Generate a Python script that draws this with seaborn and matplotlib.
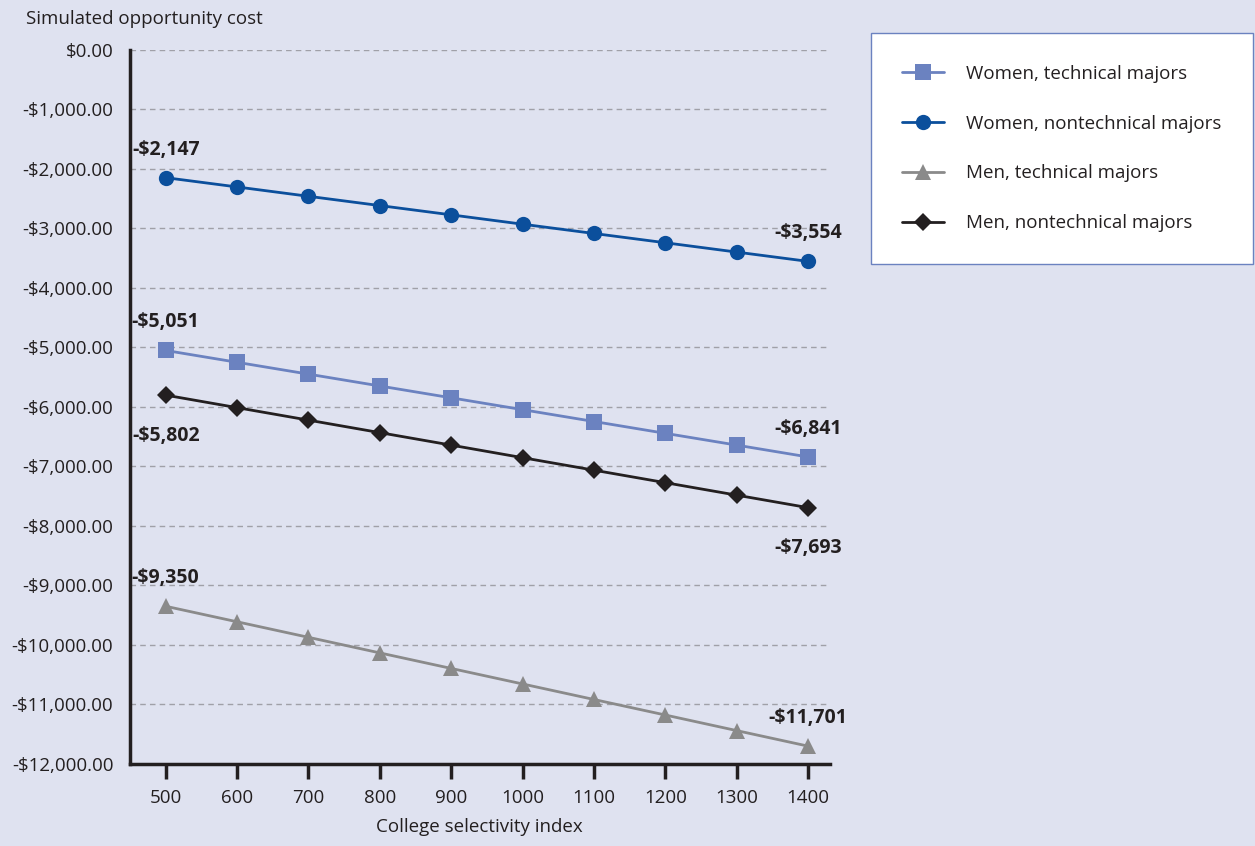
import pandas as pd
import seaborn as sns
import matplotlib.pyplot as plt
import matplotlib.transforms as mtransforms
from matplotlib.ticker import FuncFormatter

# Data
selectivity = [500, 600, 700, 800, 900, 1000, 1100, 1200, 1300, 1400]
women_technical = [-5051, -5250, -5449, -5648, -5847, -6046, -6245, -6444, -6642, -6841]
women_nontechnical = [-2147, -2303, -2460, -2616, -2772, -2929, -3085, -3241, -3398, -3554]
men_technical = [-9350, -9611, -9872, -10134, -10395, -10656, -10917, -11178, -11440, -11701]
men_nontechnical = [-5802, -6012, -6222, -6432, -6642, -6853, -7063, -7273, -7483, -7693]

series_names = ["Women, technical majors", "Women, nontechnical majors",
                "Men, technical majors", "Men, nontechnical majors"]
series_values = [women_technical, women_nontechnical, men_technical, men_nontechnical]

rows = []
for name, vals in zip(series_names, series_values):
    for x, y in zip(selectivity, vals):
        rows.append({"College selectivity index": x, "Cost": y, "Group": name})
df = pd.DataFrame(rows)

bg = "#dfe2f0"
palette = {
    "Women, technical majors": "#6b82c0",
    "Women, nontechnical majors": "#0b4f9c",
    "Men, technical majors": "#8a8a8a",
    "Men, nontechnical majors": "#231f20",
}
markers = {
    "Women, technical majors": "s",
    "Women, nontechnical majors": "o",
    "Men, technical majors": "^",
    "Men, nontechnical majors": "D",
}
sizes = {"s": 12, "o": 11, "^": 12, "D": 9}

text_color = "#231f20"
sns.set_theme(style="ticks")
plt.rcParams['font.family'] = ['Open Sans', 'DejaVu Sans']

fig = plt.figure(figsize=(12.55, 8.46), dpi=100, facecolor=bg)
ax = fig.add_axes([0.1036, 0.097, 0.5574, 0.844])
ax.set_facecolor(bg)

for name in series_names:
    sub = df[df["Group"] == name]
    sns.lineplot(data=sub, x="College selectivity index", y="Cost",
                 color=palette[name], marker=markers[name],
                 markersize=sizes[markers[name]], markeredgewidth=0,
                 linewidth=2, label=name, ax=ax, zorder=3)

# End-point labels
label_specs = [
    (women_nontechnical, 0, 13), (women_nontechnical, -1, 13),
    (women_technical, 0, 13), (women_technical, -1, 13),
    (men_nontechnical, 0, -22), (men_nontechnical, -1, -22),
    (men_technical, 0, 13), (men_technical, -1, 13),
]
for vals, idx, dy in label_specs:
    ax.annotate(f"-${abs(vals[idx]):,}", (selectivity[idx], vals[idx]),
                xytext=(0, dy), textcoords="offset points", ha="center",
                va="bottom" if dy > 0 else "top", fontsize=14,
                fontweight="bold", color=text_color)

ax.set_xlim(450, 1430)
ax.set_ylim(-12000, 0)
ax.set_xticks(selectivity)
ax.set_yticks(range(-12000, 1, 1000))
ax.yaxis.set_major_formatter(FuncFormatter(
    lambda v, p: f"${v:,.2f}" if v >= 0 else f"-${abs(v):,.2f}"))
ax.grid(axis="y", color="#a0a0a8", linestyle=(0, (4, 3)), linewidth=1)
ax.grid(axis="x", visible=False)

for s in ["top", "right"]:
    ax.spines[s].set_visible(False)
for s in ["left", "bottom"]:
    ax.spines[s].set_visible(True)
    ax.spines[s].set_color(text_color)
    ax.spines[s].set_linewidth(2.5)

# x tick marks drawn below the axis at each selectivity value
trans = mtransforms.blended_transform_factory(ax.transData, ax.transAxes)
for xv in selectivity:
    ax.plot([xv, xv], [-0.021, 0], transform=trans, color=text_color,
            linewidth=2.5, clip_on=False, zorder=10, solid_capstyle="butt")

ax.tick_params(axis="x", bottom=True, length=10, width=2, color=text_color,
               labelsize=13.5, labelcolor=text_color, pad=8)
ax.tick_params(axis="y", left=False, length=0, labelsize=13.5,
               labelcolor=text_color, pad=12)

ax.set_xlabel("College selectivity index", fontsize=13.5, color=text_color, labelpad=8)
ax.set_ylabel("")
fig.text(0.021, 0.978, "Simulated opportunity cost", fontsize=13.5,
         color=text_color, ha="left", va="center")

leg = ax.legend(loc="upper left", bbox_to_anchor=(1.0586, 1.024), frameon=True,
                fontsize=13.5, handlelength=2.2, labelspacing=1.7,
                borderpad=1.7, handletextpad=1.2, fancybox=False,
                borderaxespad=0, framealpha=1)
leg.get_frame().set_facecolor("white")
leg.get_frame().set_edgecolor("#6b82c0")
leg.get_frame().set_linewidth(1)
for t in leg.get_texts():
    t.set_color(text_color)

fig.savefig("out.png", dpi=100, facecolor=bg)
